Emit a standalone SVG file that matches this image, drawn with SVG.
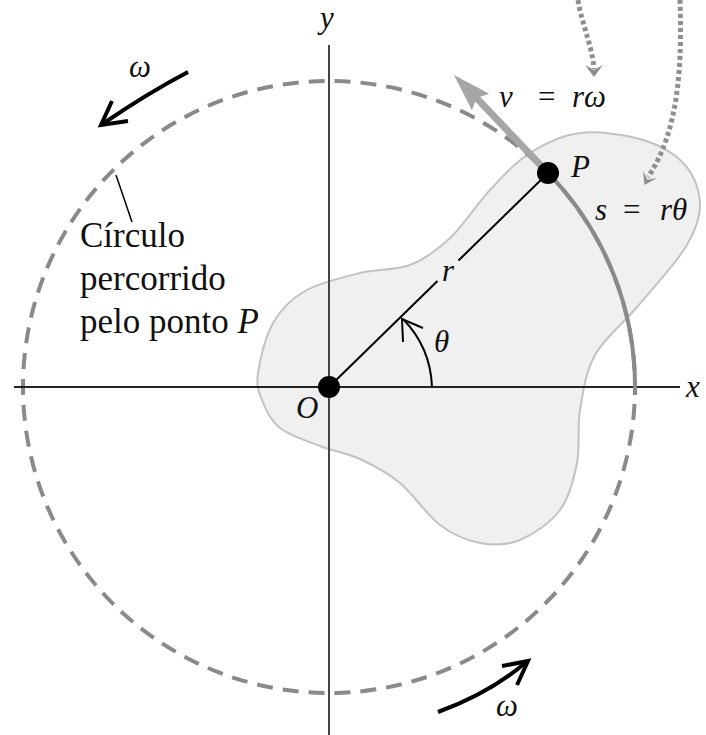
<svg xmlns="http://www.w3.org/2000/svg" width="706" height="735" viewBox="0 0 706 735">
<style>
.m{font-family:"Liberation Serif","Times New Roman",serif;font-style:italic;font-size:31px;fill:#111}
.t{font-family:"Liberation Serif","Times New Roman",serif;font-size:35px;fill:#111}
.dot{fill:none;stroke:#8f8f8f;stroke-width:5;stroke-dasharray:4 3}
.blk{fill:none;stroke:#000;stroke-width:4;stroke-linecap:butt;stroke-linejoin:miter}
</style>
<rect width="706" height="735" fill="#fff"/>
<g id="body">
<path d="M258,373 C259.8,360.2 265.2,336.7 273,323 C280.8,309.3 290.5,299.3 305,291 C319.5,282.7 342.5,277.3 360,273 C377.5,268.7 395,270.8 410,265 C425,259.2 436.7,250.5 450,238 C463.3,225.5 476.7,204.2 490,190 C503.3,175.8 515,162.5 530,153 C545,143.5 561.2,135.2 580,133 C598.8,130.8 625.5,134.7 643,140 C660.5,145.3 675.5,154.2 685,165 C694.5,175.8 700,191.2 700,205 C700,218.8 695.5,231 685,248 C674.5,265 652,289.2 637,307 C622,324.8 604.5,337.8 595,355 C585.5,372.2 583,392 580,410 C577,428 580.3,446.3 577,463 C573.7,479.7 569.5,497.2 560,510 C550.5,522.8 533.3,534.5 520,540 C506.7,545.5 493.3,545.5 480,543 C466.7,540.5 453.3,535 440,525 C426.7,515 413.3,494 400,483 C386.7,472 373.3,465.2 360,459 C346.7,452.8 333.3,451.2 320,446 C306.7,440.8 289.7,435.7 280,428 C270.3,420.3 265.7,409.2 262,400 C258.3,390.8 256.2,385.8 258,373 Z" fill="#f0f0f0" stroke="#c2c2c2" stroke-width="2"/>
</g>
<g id="circle">
<circle cx="329" cy="387" r="306" fill="none" stroke="#8a8a8a" stroke-width="4" stroke-dasharray="16 10" stroke-dashoffset="9"/>
</g>
<g id="axes">
<line x1="14" y1="387" x2="680" y2="387" stroke="#222" stroke-width="2"/>
<line x1="329" y1="45" x2="329" y2="735" stroke="#444" stroke-width="2"/>
</g>
<g id="connectors">
<path id="arc-s" d="M634.9,395 A306,306 0 0 0 548,173" fill="none" stroke="#8a8a8a" stroke-width="4"/>
<g id="radius" stroke="#000" stroke-width="2">
<line x1="329" y1="387" x2="437.5" y2="281"/>
<line x1="458.5" y1="260.5" x2="548" y2="173"/>
</g>
<g id="theta-arc" fill="none" stroke="#000" stroke-width="2">
<path d="M432,387 A103,103 0 0 0 403,319"/>
<polyline points="403,342 402,319 423,328"/>
</g>
<g id="velocity">
<line x1="548" y1="173" x2="476.4" y2="97.9" stroke="#a6a6a6" stroke-width="7"/>
<polygon points="454,75 489.2,93.8 476.4,97.9 472,110.6" fill="#a6a6a6"/>
</g>
<g id="omega-top">
<path class="blk" d="M188,72 Q148,93 104,123"/>
<polyline class="blk" points="112,101 101,125 128,121"/>
</g>
<g id="omega-bottom">
<path class="blk" d="M438,712 Q490,693 525,663"/>
<polyline class="blk" points="502,666 528,661 517,685"/>
</g>
<g id="leader">
<line x1="116" y1="175" x2="132" y2="222" stroke="#000" stroke-width="1.5"/>
</g>
<g id="dotted-1">
<path class="dot" d="M578,0 C582,25 592,45 594,69"/>
<polygon points="594,77 585,65 594,70 603,65" fill="#8f8f8f"/>
</g>
<g id="dotted-2">
<path class="dot" d="M680,0 C682,60 680,130 648,177"/>
<polygon points="644.5,185 643,171 647.5,179.7 657,178" fill="#8f8f8f"/>
</g>
</g>
<g id="point-O">
<circle cx="329" cy="387" r="11" fill="#000"/>
<text class="m" x="296" y="418">O</text>
</g>
<g id="point-P">
<circle cx="548" cy="173" r="11" fill="#000"/>
<text class="m" x="571" y="177">P</text>
</g>
<g id="labels">
<text class="m" x="320" y="28" font-size="29">y</text>
<text class="m" x="686" y="397" font-size="29">x</text>
<text class="m" x="442" y="281" font-size="29">r</text>
<text class="m" x="434" y="352">θ</text>
<text class="m" x="499" y="107">v</text>
<text class="m" x="536" y="107" font-style="normal">=</text>
<text class="m" x="572" y="107">rω</text>
<text class="m" x="595" y="220">s</text>
<text class="m" x="621" y="220" font-style="normal">=</text>
<text class="m" x="660" y="220">rθ</text>
<text class="m" x="129" y="77" font-size="30">ω</text>
<text class="m" x="496" y="716" font-size="30">ω</text>
<text class="t" x="80" y="247">Círculo</text>
<text class="t" x="80" y="290">percorrido</text>
<text class="t" x="80" y="333">pelo ponto <tspan font-style="italic">P</tspan></text>
</g>
</svg>
